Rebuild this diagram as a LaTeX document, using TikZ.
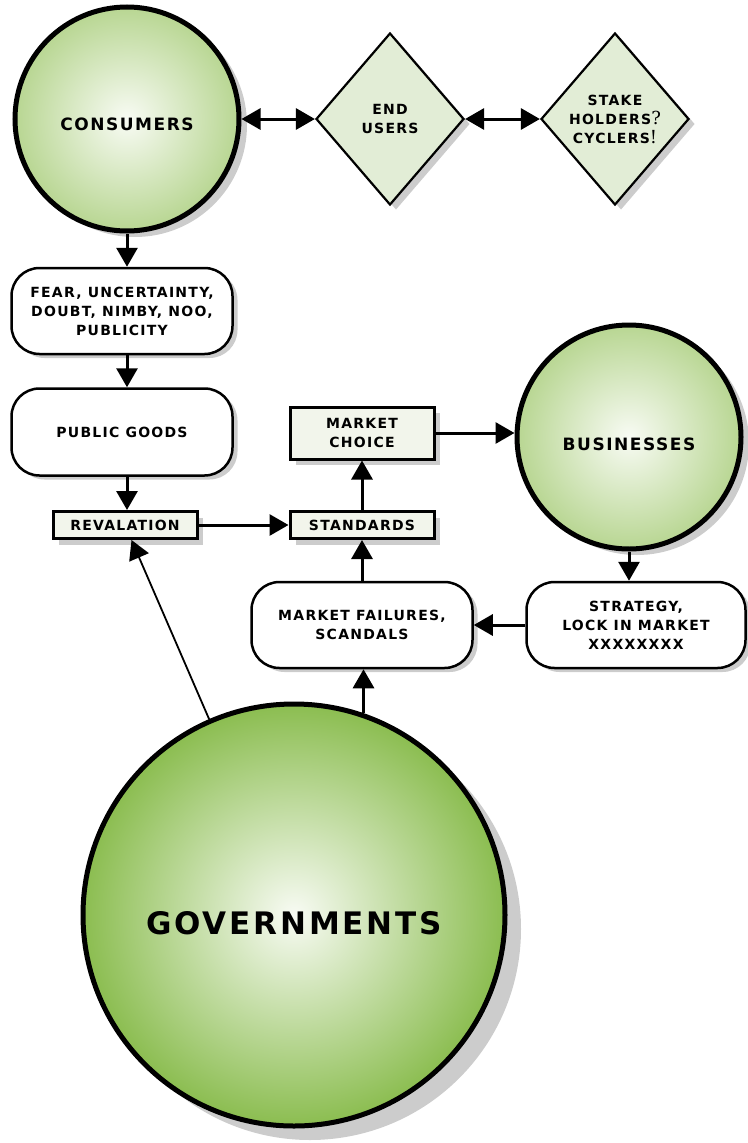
\documentclass[tikz,border=0pt]{standalone}
\usepackage{fontspec}
\setmainfont{DejaVu Sans}[LetterSpace=9]
\newfontfamily\punctfont{DejaVu Serif}
\usetikzlibrary{shapes.geometric,shadows,arrows.meta}
\definecolor{orbcentre}{RGB}{248,251,244}
\definecolor{orblight}{RGB}{184,214,146}
\definecolor{orbdark}{RGB}{139,189,80}
\definecolor{diafill}{RGB}{226,237,214}
\definecolor{boxfill}{RGB}{242,245,235}
\pgfdeclareradialshading{smallorb}{\pgfpoint{0bp}{0bp}}{color(0bp)=(orbcentre); color(25bp)=(orblight); color(50bp)=(orblight)}
\pgfdeclareradialshading{bigorb}{\pgfpoint{0bp}{0bp}}{color(0bp)=(orbcentre); color(25bp)=(orbdark); color(50bp)=(orbdark)}
\newcommand{\bigpunct}[1]{{\punctfont\mdseries\fontsize{18}{19}\selectfont #1}}
\begin{document}
\begin{tikzpicture}[x=1pt, y=-1pt, font=\bfseries\fontsize{14}{19}\selectfont,
    orb/.style = {draw, circle, line width=5pt, inner sep=0pt, shading=smallorb,
        drop shadow={shadow xshift=8pt, shadow yshift=-6pt, fill=black!20, opacity=1}},
    orbtext/.style = {font=\bfseries\fontsize{17}{20}\selectfont, yshift=-5pt},
    diam/.style = {draw, diamond, line width=2.2pt, fill=diafill, inner sep=0pt, align=center,
        minimum width=148pt, minimum height=172pt,
        drop shadow={shadow xshift=6pt, shadow yshift=-5pt, fill=black!20, opacity=1}},
    rbox/.style = {draw, rounded corners=28pt, line width=2.5pt, fill=white, align=center,
        inner sep=0pt, minimum width=221pt, minimum height=86pt,
        drop shadow={shadow xshift=5pt, shadow yshift=-4pt, fill=black!20, opacity=1}},
    sbox/.style = {draw, line width=3pt, fill=boxfill, align=center, inner sep=0pt,
        minimum width=144pt,
        drop shadow={shadow xshift=6pt, shadow yshift=-6pt, fill=black!20, opacity=1}},
    arr/.style = {line width=3pt, -{Triangle[length=19pt, width=21pt]}},
    arrboth/.style = {line width=3pt, {Triangle[length=19pt, width=21pt]}-{Triangle[length=19pt, width=21pt]}}]
    \useasboundingbox (0,0) rectangle (747,1143);

    % the actors
    \node[orb, minimum size=224pt, label={[orbtext]center:CONSUMERS}] (cons) at (127,119) {};
    \node[orb, minimum size=224pt, label={[orbtext, yshift=-2pt]center:BUSINESSES}] (bus) at (629,437) {};
    \node[orb, shading=bigorb, minimum size=422pt,
        label={[font=\bfseries\fontsize{31}{36}\selectfont, yshift=-8pt]center:GOVERNMENTS},
        drop shadow={shadow xshift=16pt, shadow yshift=-14pt, fill=black!20, opacity=1}] (gov) at (294,915) {};

    \node[diam] (endu) at (390,119) {END\\USERS};
    \node[diam] (stake) at (615,119) {STAKE\\HOLDERS\bigpunct{?}\\CYCLERS\bigpunct{!}};

    \node[rbox] (fear) at (122,311) {FEAR, UNCERTAINTY,\\DOUBT, NIMBY, NOO,\\PUBLICITY};
    \node[rbox, minimum height=87pt] (pub) at (122,432) {PUBLIC GOODS};
    \node[rbox] (mfail) at (362,625) {MARKET FAILURES,\\SCANDALS};
    \node[rbox, minimum width=219pt] (strat) at (636,625) {STRATEGY,\\LOCK IN MARKET\\XXXXXXXX};

    \node[sbox, minimum height=27pt] (reval) at (125,525) {REVALATION};
    \node[sbox, minimum height=27pt] (stand) at (362,525) {STANDARDS};
    \node[sbox, minimum height=52pt] (mchoice) at (362,433) {MARKET\\CHOICE};

    % connectors
    \draw[arrboth] (cons) to (endu);
    \draw[arrboth] (endu) to (stake);

    \draw[arr] (cons.south) to (cons.south |- fear.north);
    \draw[arr] (cons.south |- fear.south) to (cons.south |- pub.north);
    \draw[arr] (cons.south |- pub.south) to (cons.south |- reval.north);

    \draw[arr] (reval) to (stand);
    \draw[arr] (stand) to (mchoice);
    \draw[arr] (mchoice.east) to (mchoice.east -| bus.west);
    \draw[arr] (bus.south) to (bus.south |- strat.north);
    \draw[arr] (strat) to (mfail);
    \draw[arr] (mfail) to (stand);

    \draw[arr] (gov.71.5) to (gov.71.5 |- mfail.south);
    \draw[arr, line width=1.8pt] (gov) to (reval);
\end{tikzpicture}
\end{document}
